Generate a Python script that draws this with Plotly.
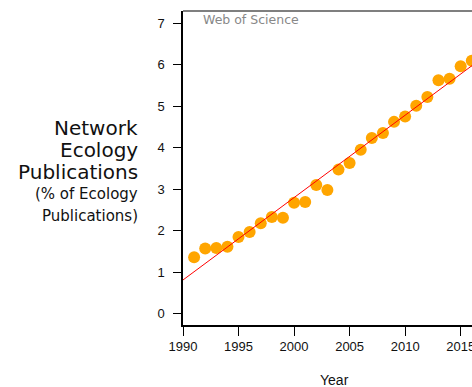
import numpy as np
import plotly.graph_objects as go

years = list(range(1991, 2017))
pct = [1.36, 1.57, 1.58, 1.61, 1.85, 1.97, 2.18, 2.33, 2.31, 2.67, 2.69, 3.10, 2.98,
       3.47, 3.63, 3.95, 4.23, 4.35, 4.62, 4.75, 5.01, 5.22, 5.62, 5.66, 5.96, 6.09]
x_ticks = [1990, 1995, 2000, 2005, 2010, 2015]
y_ticks = [0, 1, 2, 3, 4, 5, 6, 7]
x_range = [1990, 2016.02]
y_range = [-0.272, 7.29]

slope, intercept = np.polyfit(years, pct, 1)
fit_x = [x_range[0], x_range[1] + 5]
fit_y = [intercept + slope * v for v in fit_x]

W, H = 472, 387
L, R, T, B = 183, 0, 11, 62
pw, ph = W - L - R, H - T - B

def px(xp):
    return (xp - L) / pw

def py(yp):
    return (H - B - yp) / ph

fig = go.Figure()
fig.add_trace(go.Scatter(x=years, y=pct, mode="markers",
                         marker=dict(color="#FFA500", size=12, line=dict(width=0)),
                         cliponaxis=False, showlegend=False))
fig.add_trace(go.Scatter(x=fit_x, y=fit_y, mode="lines",
                         line=dict(color="#FF0000", width=1), showlegend=False))

tick_font = dict(family="Liberation Sans, Arial", size=13, color="#111")
fig.update_xaxes(range=x_range, tickvals=x_ticks, ticks="outside", ticklen=9,
                 tickcolor="black", tickwidth=1, showline=True, linecolor="black",
                 linewidth=1.5, showgrid=False, zeroline=False, tickfont=tick_font,
                 ticklabeloverflow="allow")
fig.update_yaxes(range=y_range, tickvals=y_ticks, ticks="outside", ticklen=8,
                 tickcolor="black", tickwidth=1, showline=True, linecolor="black",
                 linewidth=1.5, showgrid=False, zeroline=False, tickfont=tick_font,
                 ticklabelstandoff=6)

fig.add_shape(type="line", xref="paper", yref="paper", x0=0, x1=1, y0=1, y1=1,
              line=dict(color="#555555", width=1.5))

title_font = "DejaVu Sans"
ann = [
    ("Network", 128, 20),
    ("Ecology", 150, 20),
    ("Publications", 172, 20),
    ("(% of Ecology", 194, 15),
    ("Publications)", 216, 15),
]
for txt, yc, sz in ann:
    fig.add_annotation(text=txt, xref="paper", yref="paper", x=px(140), y=py(yc),
                       xanchor="right", yanchor="middle", showarrow=False,
                       font=dict(family=title_font, size=sz, color="#111"))

fig.add_annotation(text="Web of Science", xref="paper", yref="paper", x=px(201),
                   y=py(19), xanchor="left", yanchor="middle", showarrow=False,
                   font=dict(family=title_font, size=12.5, color="#888888"))
fig.add_annotation(text="Year", xref="paper", yref="paper", x=px(334), y=py(380),
                   xanchor="center", yanchor="middle", showarrow=False,
                   font=dict(family="Liberation Sans, Arial", size=14, color="#111"))

fig.update_layout(width=W, height=H, margin=dict(l=L, r=R, t=T, b=B, autoexpand=False),
                  plot_bgcolor="white", paper_bgcolor="white")
fig.write_html("out.html")
